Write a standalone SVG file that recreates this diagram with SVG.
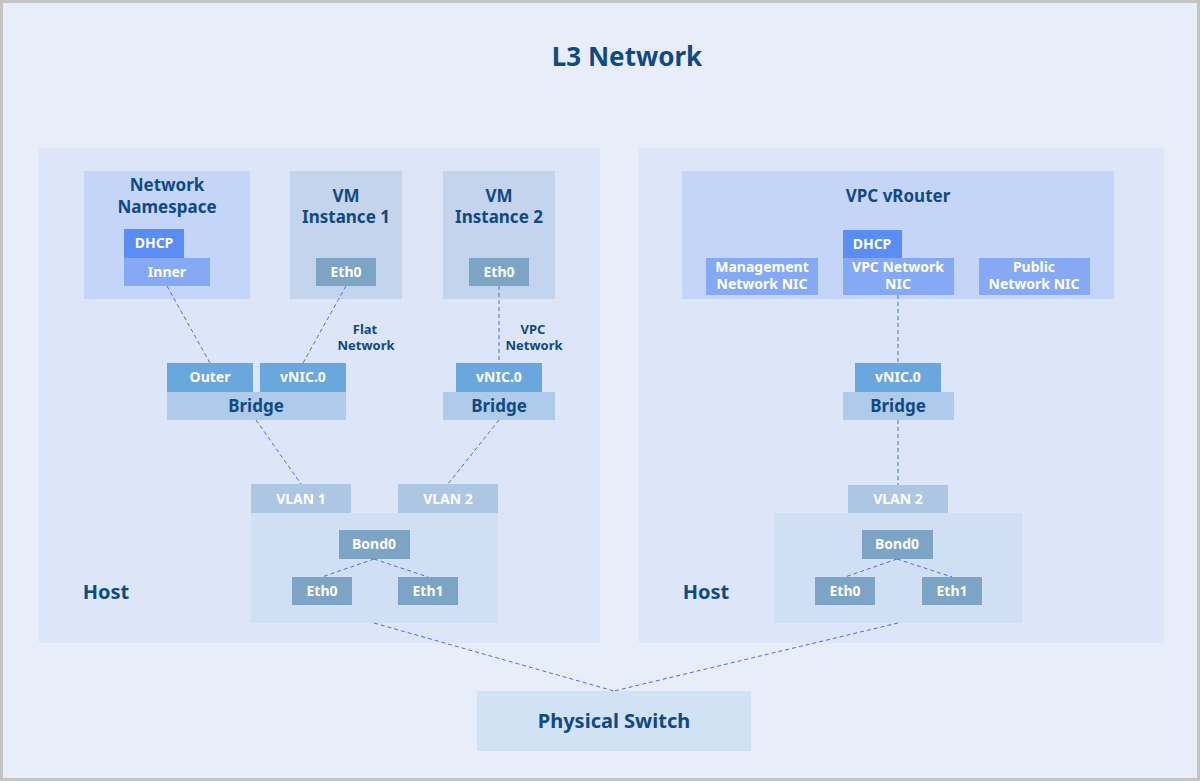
<svg xmlns="http://www.w3.org/2000/svg" width="1200" height="783" viewBox="0 0 1200 783">
<style>
text{font-family:"Noto Sans","Open Sans",sans-serif;font-weight:bold;text-anchor:middle;}
.t{fill:#0f4a80;}
.w{fill:#ffffff;}
.conn line{stroke:#4a72c8;stroke-width:1;stroke-dasharray:4 3;fill:none;}
</style>
<rect x="1.5" y="1.5" width="1197" height="778" fill="#e8eef9" stroke="#c4c4c4" stroke-width="3"/>
<text class="t" x="627" y="66" font-size="26">L3 Network</text>

<g id="host-left">
<rect x="39" y="148" width="561" height="495" fill="#dce6f8"/>
<text class="t" x="106" y="599" font-size="20">Host</text>
</g>
<g id="host-right">
<rect x="639" y="148" width="525" height="495" fill="#dce6f8"/>
<text class="t" x="706" y="599" font-size="20">Host</text>
</g>

<g id="netns">
<rect x="84" y="171" width="166" height="128" fill="#c4d5f8"/>
<text class="t" x="167" y="191" font-size="17">Network</text>
<text class="t" x="167" y="213" font-size="17">Namespace</text>
</g>
<g id="dhcp-left"><rect x="124" y="229" width="60" height="29" fill="#5a8ef5"/><text class="w" x="154" y="248" font-size="14">DHCP</text></g>
<g id="inner"><rect x="124" y="258" width="86" height="28" fill="#86a9f5"/><text class="w" x="167" y="277" font-size="14">Inner</text></g>

<g id="vm1">
<rect x="290" y="171" width="112" height="128" fill="#c4d4ec"/>
<text class="t" x="346" y="202" font-size="17">VM</text>
<text class="t" x="346" y="223" font-size="17">Instance 1</text>
</g>
<g id="vm1-eth0"><rect x="316" y="258" width="60" height="28" fill="#7ba4c5"/><text class="w" x="346" y="277" font-size="14">Eth0</text></g>

<g id="vm2">
<rect x="443" y="171" width="112" height="128" fill="#c4d4ec"/>
<text class="t" x="499" y="202" font-size="17">VM</text>
<text class="t" x="499" y="223" font-size="17">Instance 2</text>
</g>
<g id="vm2-eth0"><rect x="469" y="258" width="60" height="28" fill="#7ba4c5"/><text class="w" x="499" y="277" font-size="14">Eth0</text></g>

<g id="flat-label"><text class="t" x="365" y="334" font-size="13">Flat</text><text class="t" x="366" y="350" font-size="13">Network</text></g>
<g id="vpc-label"><text class="t" x="533" y="334" font-size="13">VPC</text><text class="t" x="534" y="350" font-size="13">Network</text></g>

<g id="outer"><rect x="167" y="363" width="86" height="29" fill="#6aa7dc"/><text class="w" x="210" y="382" font-size="14">Outer</text></g>
<g id="vnic-left1"><rect x="260" y="363" width="86" height="29" fill="#6aa7dc"/><text class="w" x="303" y="382" font-size="14">vNIC.0</text></g>
<g id="bridge-left1"><rect x="167" y="392" width="179" height="28" fill="#aecbec"/><text class="t" x="256" y="412" font-size="17">Bridge</text></g>

<g id="vnic-left2"><rect x="456" y="363" width="86" height="29" fill="#6aa7dc"/><text class="w" x="499" y="382" font-size="14">vNIC.0</text></g>
<g id="bridge-left2"><rect x="443" y="392" width="112" height="28" fill="#aecbec"/><text class="t" x="499" y="412" font-size="17">Bridge</text></g>

<g id="vlan1"><rect x="251" y="484" width="100" height="29" fill="#adc6e3"/><text class="w" x="301" y="504" font-size="14">VLAN 1</text></g>
<g id="vlan2-left"><rect x="398" y="484" width="100" height="29" fill="#adc6e3"/><text class="w" x="448" y="504" font-size="14">VLAN 2</text></g>
<g id="nic-left"><rect x="251" y="513" width="247" height="110" fill="#d0dff4"/></g>
<g id="bond0-left"><rect x="339" y="530" width="71" height="29" fill="#7ba4c5"/><text class="w" x="374" y="549" font-size="14">Bond0</text></g>
<g id="eth0-left"><rect x="292" y="577" width="60" height="28" fill="#7ba4c5"/><text class="w" x="322" y="596" font-size="14">Eth0</text></g>
<g id="eth1-left"><rect x="398" y="577" width="60" height="28" fill="#7ba4c5"/><text class="w" x="428" y="596" font-size="14">Eth1</text></g>

<g id="vrouter">
<rect x="682" y="171" width="432" height="128" fill="#c4d5f8"/>
<text class="t" x="898" y="202" font-size="17">VPC vRouter</text>
</g>
<g id="dhcp-right"><rect x="843" y="230" width="59" height="28" fill="#5a8ef5"/><text class="w" x="872" y="249" font-size="14">DHCP</text></g>
<g id="mgmt-nic"><rect x="706" y="258" width="112" height="37" fill="#86a9f5"/><text class="w" x="762" y="272" font-size="14">Management</text><text class="w" x="762" y="289" font-size="14">Network NIC</text></g>
<g id="vpc-nic"><rect x="843" y="258" width="111" height="37" fill="#86a9f5"/><text class="w" x="898" y="272" font-size="14">VPC Network</text><text class="w" x="898" y="289" font-size="14">NIC</text></g>
<g id="public-nic"><rect x="979" y="258" width="111" height="37" fill="#86a9f5"/><text class="w" x="1034" y="272" font-size="14">Public</text><text class="w" x="1034" y="289" font-size="14">Network NIC</text></g>

<g id="vnic-right"><rect x="855" y="363" width="86" height="29" fill="#6aa7dc"/><text class="w" x="898" y="382" font-size="14">vNIC.0</text></g>
<g id="bridge-right"><rect x="843" y="392" width="111" height="28" fill="#aecbec"/><text class="t" x="898" y="412" font-size="17">Bridge</text></g>
<g id="vlan2-right"><rect x="848" y="485" width="100" height="28" fill="#adc6e3"/><text class="w" x="898" y="504" font-size="14">VLAN 2</text></g>
<g id="nic-right"><rect x="774" y="513" width="248" height="110" fill="#d0dff4"/></g>
<g id="bond0-right"><rect x="862" y="530" width="71" height="29" fill="#7ba4c5"/><text class="w" x="897" y="549" font-size="14">Bond0</text></g>
<g id="eth0-right"><rect x="815" y="577" width="60" height="28" fill="#7ba4c5"/><text class="w" x="845" y="596" font-size="14">Eth0</text></g>
<g id="eth1-right"><rect x="922" y="577" width="60" height="28" fill="#7ba4c5"/><text class="w" x="952" y="596" font-size="14">Eth1</text></g>

<g id="switch"><rect x="477" y="691" width="274" height="60" fill="#d1e2f5"/><text class="t" x="614" y="728" font-size="20">Physical Switch</text></g>

<g class="conn" id="connectors">
<line x1="167" y1="286" x2="210" y2="363"/>
<line x1="346" y1="286" x2="303" y2="363"/>
<line x1="499" y1="286" x2="499" y2="363"/>
<line x1="256" y1="420" x2="301" y2="484"/>
<line x1="499" y1="420" x2="448" y2="484"/>
<line x1="374" y1="559" x2="322" y2="577"/>
<line x1="374" y1="559" x2="428" y2="577"/>
<line x1="374" y1="623" x2="614" y2="691"/>
<line x1="898" y1="295" x2="898" y2="363"/>
<line x1="898" y1="420" x2="898" y2="485"/>
<line x1="897" y1="559" x2="845" y2="577"/>
<line x1="897" y1="559" x2="952" y2="577"/>
<line x1="898" y1="623" x2="614" y2="691"/>
</g>
</svg>
